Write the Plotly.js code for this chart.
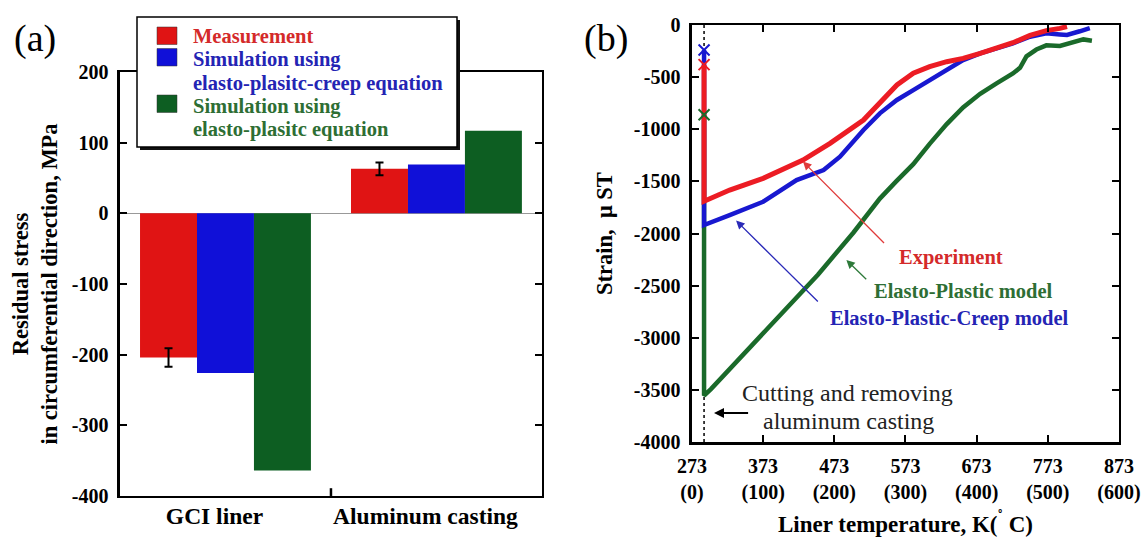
<!DOCTYPE html>
<html><head><meta charset="utf-8">
<script src="https://cdn.plot.ly/plotly-3.0.1.min.js"></script>
<style>html,body{margin:0;padding:0;background:#fff;}#chart{width:1146px;height:537px;}</style>
</head><body><div id="chart"></div>
<script>
// ---- Panel (a): residual stress ----
const categories = ['GCI liner', 'Aluminum casting'];
const seriesNames = ['Measurement', 'Simulation using elasto-plasitc-creep equation', 'Simulation using elasto-plasitc equation'];
const legendLines = [['Measurement'], ['Simulation using', 'elasto-plasitc-creep equation'], ['Simulation using', 'elasto-plasitc equation']];
const measurement = [-204, 63];
const measurementErr = [13, 9];
const simCreep = [-226, 69];
const simPlastic = [-364, 117];
const stressTicks = [-400, -300, -200, -100, 0, 100, 200];

// ---- Panel (b): strain vs liner temperature ----
const expK = [290, 290, 326, 373, 429, 467, 514, 537, 561, 584, 607, 631, 654, 678, 701, 724, 748, 771, 790, 800];
const expStrain = [-380, -1690, -1583, -1471, -1295, -1135, -911, -740, -575, -463, -400, -352, -320, -272, -224, -170, -100, -54, -32, -15];

const creepK = [290, 290, 326, 373, 420, 443, 458, 481, 514, 537, 561, 584, 607, 631, 654, 678, 701, 724, 748, 771, 790, 800, 818, 832];
const creepStrain = [-240, -1919, -1823, -1695, -1487, -1423, -1391, -1263, -1007, -847, -719, -624, -528, -432, -336, -272, -224, -176, -112, -80, -90, -95, -60, -30];

const plasticK = [290, 290, 300, 350, 400, 425, 450, 500, 537, 560, 584, 607, 631, 654, 678, 701, 724, 734, 743, 757, 771, 790, 809, 823, 835];
const plasticStrain = [-860, -3555, -3490, -3130, -2770, -2590, -2395, -1990, -1665, -1500, -1335, -1140, -950, -790, -660, -560, -465, -410, -300, -235, -195, -200, -168, -138, -150];

const tempK = [273, 373, 473, 573, 673, 773, 873];
const tempC = [0, 100, 200, 300, 400, 500, 600];
const strainTicks = [-4000, -3500, -3000, -2500, -2000, -1500, -1000, -500, 0];

const SERIF = 'Liberation Serif, Times New Roman, serif';
const BAR_COLORS = ['#e01414', '#1010d8', '#0d5e22'];
const TEXT_COLORS = ['#d42a2a', '#2424b4', '#2e6e34'];
const RED_L = '#ec1c24', BLUE_L = '#1818d0', GREEN_L = '#1a6a2a';

const W = 1146, H = 537;
const px = x => x / W, py = y => 1 - y / H;

const traces = [
  {type: 'bar', x: categories, y: measurement, xaxis: 'x', yaxis: 'y', name: seriesNames[0], showlegend: false,
   marker: {color: BAR_COLORS[0]},
   error_y: {type: 'data', array: measurementErr, visible: true, color: '#000', thickness: 2, width: 4}},
  {type: 'bar', x: categories, y: simCreep, xaxis: 'x', yaxis: 'y', name: seriesNames[1], showlegend: false,
   marker: {color: BAR_COLORS[1]}},
  {type: 'bar', x: categories, y: simPlastic, xaxis: 'x', yaxis: 'y', name: seriesNames[2], showlegend: false,
   marker: {color: BAR_COLORS[2]}},

  {type: 'scatter', mode: 'lines', x: plasticK, y: plasticStrain, xaxis: 'x2', yaxis: 'y2', showlegend: false,
   name: 'Elasto-Plastic model', line: {color: GREEN_L, width: 4.5}},
  {type: 'scatter', mode: 'lines', x: creepK, y: creepStrain, xaxis: 'x2', yaxis: 'y2', showlegend: false,
   name: 'Elasto-Plastic-Creep model', line: {color: BLUE_L, width: 4.5}},
  {type: 'scatter', mode: 'lines', x: expK, y: expStrain, xaxis: 'x2', yaxis: 'y2', showlegend: false,
   name: 'Experiment', line: {color: RED_L, width: 5}},
  {type: 'scatter', mode: 'markers', x: [plasticK[0]], y: [plasticStrain[0]], xaxis: 'x2', yaxis: 'y2', showlegend: false,
   marker: {symbol: 'x-thin-open', size: 11, color: GREEN_L, line: {color: GREEN_L, width: 2}}},
  {type: 'scatter', mode: 'markers', x: [expK[0]], y: [expStrain[0]], xaxis: 'x2', yaxis: 'y2', showlegend: false,
   marker: {symbol: 'x-thin-open', size: 11, color: RED_L, line: {color: RED_L, width: 2}}},
  {type: 'scatter', mode: 'markers', x: [creepK[0]], y: [creepStrain[0]], xaxis: 'x2', yaxis: 'y2', showlegend: false,
   marker: {symbol: 'x-thin-open', size: 11, color: BLUE_L, line: {color: BLUE_L, width: 2}}}
];

const tickFont = {family: SERIF, size: 20, color: '#000', weight: 'bold'};
const axisBase = {showline: true, linecolor: '#000', linewidth: 2.5, mirror: 'ticks', showgrid: false,
  ticks: 'inside', ticklen: 7, tickwidth: 2, tickcolor: '#000', tickfont: tickFont, fixedrange: true, automargin: false};

// Legend box of panel (a), drawn as a framed box with a drop shadow
const shapes = [
  {type: 'rect', xref: 'paper', yref: 'paper', x0: px(140), x1: px(460), y0: py(150), y1: py(20),
   fillcolor: '#111', line: {width: 0}, layer: 'above'},
  {type: 'rect', xref: 'paper', yref: 'paper', x0: px(137), x1: px(457), y0: py(147), y1: py(17),
   fillcolor: '#fff', line: {color: '#000', width: 1.5}, layer: 'above'},
  {type: 'line', xref: 'x', yref: 'y', x0: 0.5, x1: 0.5, y0: -400, y1: -389, line: {color: '#000', width: 2.5}},
  {type: 'line', xref: 'x2', yref: 'y2', x0: 290, x1: 290, y0: -4000, y1: 0, line: {color: '#000', width: 1.5, dash: 'dot'}, layer: 'below'}
];
const swatchTop = [27, 48.5, 95];
const lineY = [[36], [60, 83.5], [106.5, 130]];
const annotations = [];
legendLines.forEach((lines, i) => {
  shapes.push({type: 'rect', xref: 'paper', yref: 'paper', x0: px(157), x1: px(177), y0: py(swatchTop[i] + 17.5), y1: py(swatchTop[i]),
    fillcolor: BAR_COLORS[i], line: {color: '#333', width: 0.5}, layer: 'above'});
  lines.forEach((t, j) => annotations.push({xref: 'paper', yref: 'paper', x: px(191), y: py(lineY[i][j]), text: t,
    showarrow: false, xanchor: 'left', yanchor: 'middle',
    font: {family: SERIF, size: 20.5, color: TEXT_COLORS[i], weight: 'bold'}}));
});

annotations.push(
  {xref: 'paper', yref: 'paper', x: px(35), y: py(39), text: '(a)', showarrow: false,
   font: {family: SERIF, size: 38, color: '#000'}, xanchor: 'center', yanchor: 'middle'},
  {xref: 'paper', yref: 'paper', x: px(606), y: py(39), text: '(b)', showarrow: false,
   font: {family: SERIF, size: 38, color: '#000'}, xanchor: 'center', yanchor: 'middle'},
  {xref: 'paper', yref: 'paper', x: px(951), y: py(257), text: 'Experiment', showarrow: false,
   font: {family: SERIF, size: 20.5, color: TEXT_COLORS[0], weight: 'bold'}, xanchor: 'center', yanchor: 'middle'},
  {xref: 'paper', yref: 'paper', x: px(963), y: py(291), text: 'Elasto-Plastic model', showarrow: false,
   font: {family: SERIF, size: 20.5, color: TEXT_COLORS[2], weight: 'bold'}, xanchor: 'center', yanchor: 'middle'},
  {xref: 'paper', yref: 'paper', x: px(949), y: py(318), text: 'Elasto-Plastic-Creep model', showarrow: false,
   font: {family: SERIF, size: 20.5, color: TEXT_COLORS[1], weight: 'bold'}, xanchor: 'center', yanchor: 'middle'},
  {xref: 'paper', yref: 'paper', x: px(847), y: py(393), text: 'Cutting and removing', showarrow: false,
   font: {family: SERIF, size: 24, color: '#222'}, xanchor: 'center', yanchor: 'middle'},
  {xref: 'paper', yref: 'paper', x: px(848), y: py(421), text: 'aluminum casting', showarrow: false,
   font: {family: SERIF, size: 24, color: '#222'}, xanchor: 'center', yanchor: 'middle'},
  {xref: 'x2', yref: 'y2', axref: 'x2', ayref: 'y2', x: 429, y: -1310, ax: 545, ay: -2106, text: '',
   showarrow: true, arrowhead: 2, arrowsize: 1.3, arrowwidth: 1.3, arrowcolor: '#e03a3a', standoff: 0},
  {xref: 'x2', yref: 'y2', axref: 'x2', ayref: 'y2', x: 490, y: -2254, ax: 520, ay: -2453, text: '',
   showarrow: true, arrowhead: 2, arrowsize: 1.3, arrowwidth: 1.3, arrowcolor: '#2e7a3a', standoff: 0},
  {xref: 'x2', yref: 'y2', axref: 'x2', ayref: 'y2', x: 335, y: -1876, ax: 452, ay: -2667, text: '',
   showarrow: true, arrowhead: 2, arrowsize: 1.3, arrowwidth: 1.3, arrowcolor: '#2a2ab8', standoff: 0},
  {xref: 'x2', yref: 'y2', axref: 'x2', ayref: 'y2', x: 304, y: -3722, ax: 354, ay: -3722, text: '',
   showarrow: true, arrowhead: 2, arrowsize: 1, arrowwidth: 2, arrowcolor: '#000', standoff: 0}
);

const layout = {
  width: W, height: H,
  margin: {l: 0, r: 0, t: 0, b: 0, pad: 0},
  paper_bgcolor: '#fff', plot_bgcolor: '#fff',
  barmode: 'group', bargap: 0.19, bargroupgap: 0,
  font: {family: SERIF, color: '#000'},
  showlegend: false,
  xaxis: Object.assign({}, axisBase, {domain: [0.1047, 0.4729], anchor: 'y', type: 'category',
    range: [-0.5, 1.5], ticks: '', mirror: true, tickfont: {family: SERIF, size: 23.5, color: '#000', weight: 'bold'},
    ticklabelstandoff: -3, ticklabelshift: -11}),
  yaxis: Object.assign({}, axisBase, {domain: [0.0764, 0.8659], anchor: 'x', range: [-400, 200],
    tickmode: 'array', tickvals: stressTicks, ticktext: stressTicks.map(String),
    zeroline: true, zerolinecolor: '#999', zerolinewidth: 1, ticklabelstandoff: 5,
    title: {text: 'Residual stress<br>in circumferential direction, MPa',
      font: {family: SERIF, size: 22.5, color: '#000', weight: 'bold'}, standoff: 8}}),
  xaxis2: Object.assign({}, axisBase, {domain: [0.6038, 0.9764], anchor: 'y2', range: [273, 873],
    tickmode: 'array', tickvals: tempK, ticktext: tempK.map((k, i) => k + '<br>(' + tempC[i] + ')'),
    zeroline: false, ticklabelstandoff: 4,
    title: {text: 'Liner temperature, K(<sup>˚</sup> C)', font: {family: SERIF, size: 23, color: '#000', weight: 'bold'}, standoff: 19}}),
  yaxis2: Object.assign({}, axisBase, {domain: [0.1769, 0.9534], anchor: 'x2', range: [-4000, 0],
    tickmode: 'array', tickvals: strainTicks, ticktext: strainTicks.map(String),
    zeroline: false, ticklabelstandoff: 5,
    title: {text: 'Strain,  μ ST', font: {family: SERIF, size: 22.5, color: '#000', weight: 'bold'}, standoff: 15}}),
  shapes: shapes,
  annotations: annotations
};

Plotly.newPlot('chart', traces, layout, {displayModeBar: false, staticPlot: true});
</script></body></html>
